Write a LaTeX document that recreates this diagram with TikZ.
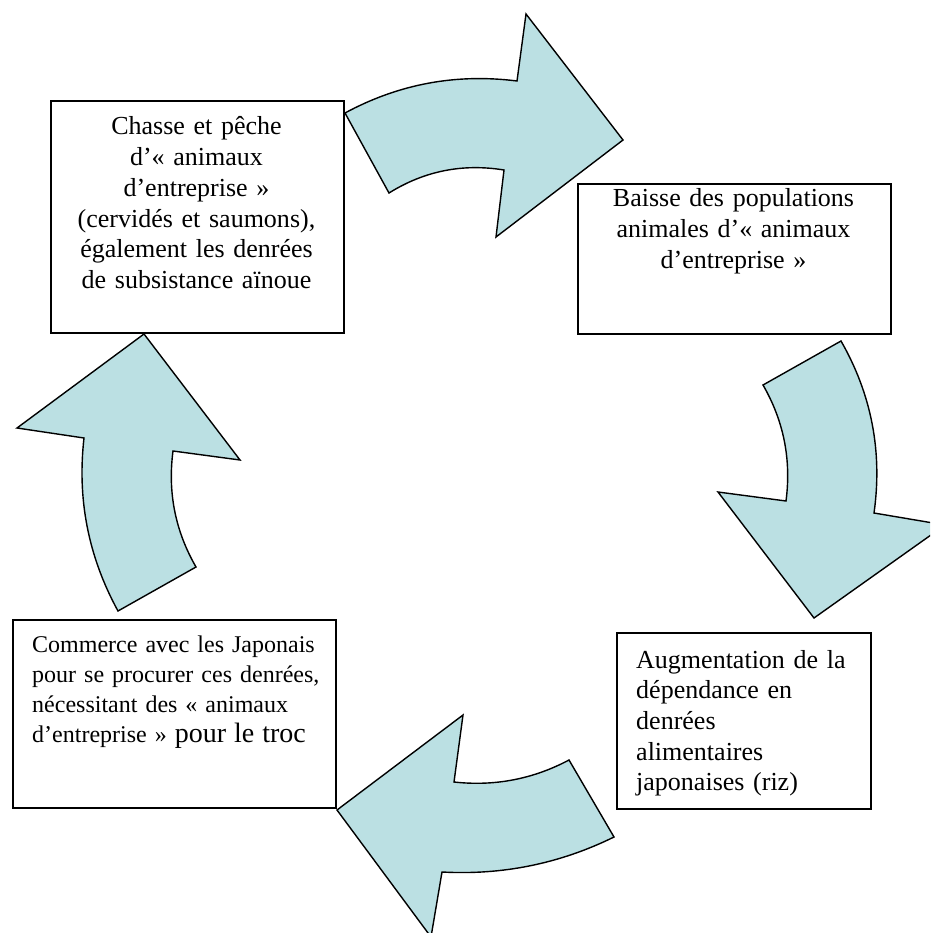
\documentclass[tikz,border=0pt]{standalone}
\usepackage{fontspec}
\setmainfont{Liberation Serif}
\definecolor{arrowfill}{RGB}{187,224,227}
\tikzset{
  boxshape/.style={draw=black, line width=1.6pt, rectangle, inner sep=0pt, anchor=north west},
  boxtext/.style={inner sep=0pt, font=\fontsize{26}{30.7}\selectfont},
  smalltext/.style={inner sep=0pt, font=\fontsize{24}{30.3}\selectfont},
  blockarrow/.style={fill=arrowfill, draw=black, line width=1.4pt, line join=miter}
}
\begin{document}
\begin{tikzpicture}[x=1pt,y=-1pt]
\useasboundingbox (0,0) rectangle (930,933);
\clip (0,0) rectangle (930,933);
\fill[white] (0,0) rectangle (930,933);

% boxes
\node[boxshape, minimum width=293pt, minimum height=232pt] (b1) at (50,100) {};
\node[boxshape, minimum width=313pt, minimum height=150pt] (b2) at (577,183) {};
\node[boxshape, minimum width=254pt, minimum height=176pt] (b3) at (616,632) {};
\node[boxshape, minimum width=323pt, minimum height=188pt] (b4) at (12,619) {};

% texts
\node[boxtext, anchor=base, text width=320pt, align=center] (t1) at (196.5,135)
  {Chasse et pêche\\d’« animaux\\d’entreprise »\\(cervidés et saumons),\\également les denrées\\de subsistance aïnoue};
\node[boxtext, anchor=base, text width=320pt, align=center] (t2) at (733.5,207)
  {Baisse des populations\\animales d’« animaux\\d’entreprise »};
\node[boxtext, anchor=base west, text width=280pt, align=left] (t3) at (636,668)
  {Augmentation de la\\dépendance en\\denrées\\alimentaires\\japonaises (riz)};
\node[smalltext, anchor=base west, text width=340pt, align=left] (t4) at (32,652)
  {Commerce avec les Japonais\\pour se procurer ces denrées,\\nécessitant des « animaux\\d’entreprise » {\fontsize{28}{30.3}\selectfont pour le troc}};

% top arrow (b1 -> b2)
\draw[blockarrow] (345,113) .. controls (398.9,83.9) and (456.3,73.3) .. (517,81)
  -- (526,14) -- (623,140) -- (496,237) -- (504,170)
  .. controls (462.8,163.3) and (424.4,170.9) .. (389,193) -- cycle;

% right arrow (b2 -> b3)
\draw[blockarrow] (763,385) .. controls (783.8,421.1) and (791.4,459.7) .. (786,501)
  -- (718,492) -- (814,618) -- (945,525) -- (874,513)
  .. controls (882.6,451.9) and (871.6,394.5) .. (841,341) -- cycle;

% bottom arrow (b3 -> b4)
\draw[blockarrow] (569,760) .. controls (533,779.1) and (494.6,786.5) .. (454,782)
  -- (463,715) -- (337,810) -- (431,937) -- (442,872)
  .. controls (502.3,875.3) and (559.7,863.7) .. (614,837) -- cycle;

% left arrow (b4 -> b1)
\draw[blockarrow] (144,334) -- (17,428) -- (84,438)
  .. controls (77,499.3) and (88.4,556.9) .. (118,611)
  -- (196,567)
  .. controls (175.2,530.9) and (167.6,492.3) .. (173,451)
  -- (240,460) -- cycle;
\end{tikzpicture}
\end{document}
